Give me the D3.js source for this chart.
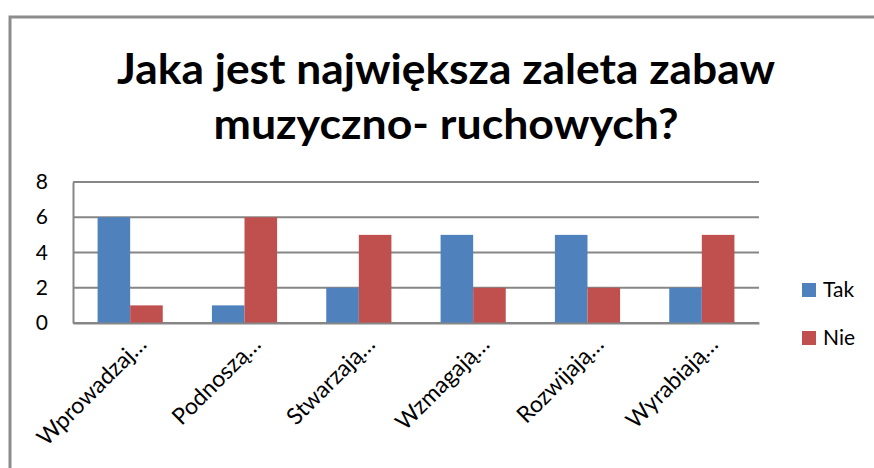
<!DOCTYPE html>
<html>
<head>
<meta charset="utf-8">
<script src="https://cdn.jsdelivr.net/npm/d3@7"></script>
<style>
  body { margin: 0; background: #fff; }
  text { font-family: Lato, "Open Sans", sans-serif; }
</style>
</head>
<body>
<script>
var categories = ["Wprowadzaj…", "Podnoszą…", "Stwarzają…", "Wzmagają…", "Rozwijają…", "Wyrabiają…"];
var tak = [6, 1, 2, 5, 5, 2];
var nie = [1, 6, 5, 2, 2, 5];
var seriesNames = ["Tak", "Nie"];
var yTicks = [0, 2, 4, 6, 8];
var titleLines = ["Jaka jest największa zaleta zabaw", "muzyczno- ruchowych?"];
var titleWidths = [658, 465];

var colors = ["#4f81bd", "#c0504d"];

var W = 874, H = 468;
var margin = {top: 182, right: 115, bottom: 145, left: 73}
  , width = W - margin.left - margin.right
  , height = H - margin.top - margin.bottom;

var svg = d3.select("body").append("svg")
    .attr("width", W)
    .attr("height", H);

// outer frame of the chart object
svg.append("path")
    .attr("d", "M10," + H + "V17H" + W)
    .attr("fill", "none")
    .attr("stroke", "#8c8c8c")
    .attr("stroke-width", 3);

// title
svg.append("g").selectAll("text")
    .data(titleLines)
  .enter().append("text")
    .attr("x", function(d, i) { return 446 - titleWidths[i] / 2; })
    .attr("y", function(d, i) { return 84 + i * 55; })
    .attr("textLength", function(d, i) { return titleWidths[i]; })
    .attr("lengthAdjust", "spacingAndGlyphs")
    .style("font-size", "42px")
    .style("font-weight", "bold")
    .text(function(d) { return d; });

var x0 = d3.scaleBand().domain(categories).range([0, width]).paddingInner(0.43).paddingOuter(0.215);
var x1 = d3.scaleBand().domain(seriesNames).range([0, x0.bandwidth()]);
var yScale = d3.scaleLinear().domain([0, 8]).range([height, 0]);

var g = svg.append("g")
    .attr("transform", "translate(" + margin.left + "," + margin.top + ")");

// gridlines
g.append("g").selectAll("line")
    .data(yTicks)
  .enter().append("line")
    .attr("x1", 0).attr("x2", width)
    .attr("y1", function(d) { return yScale(d); })
    .attr("y2", function(d) { return yScale(d); })
    .attr("stroke", "#868686")
    .attr("stroke-width", 2);

var rows = categories.map(function(c, i) { return {cat: c, values: [tak[i], nie[i]]}; });

var groups = g.append("g").selectAll("g")
    .data(rows)
  .enter().append("g")
    .attr("transform", function(d) { return "translate(" + x0(d.cat) + ",0)"; });

groups.selectAll("rect")
    .data(function(d) { return d.values.map(function(v, j) { return {key: seriesNames[j], value: v, j: j}; }); })
  .enter().append("rect")
    .attr("x", function(d) { return x1(d.key); })
    .attr("y", function(d) { return yScale(d.value); })
    .attr("width", x1.bandwidth())
    .attr("height", function(d) { return height - yScale(d.value); })
    .attr("fill", function(d) { return colors[d.j]; });

// y axis
var yAxis = g.append("g")
    .call(d3.axisLeft(yScale).tickValues(yTicks).tickSize(0).tickPadding(25));
yAxis.select(".domain").attr("stroke", "#868686").attr("stroke-width", 2);
yAxis.selectAll("text").style("font-size", "21px").style("font-family", "Lato, sans-serif").attr("fill", "#000");

// x axis
var xAxis = g.append("g")
    .attr("transform", "translate(0," + height + ")")
    .call(d3.axisBottom(x0).tickSize(0).tickFormat(function(d) { return d; }));
xAxis.select(".domain").attr("stroke", "#868686").attr("stroke-width", 2);
xAxis.selectAll("text")
    .style("font-size", "23px")
    .style("font-family", "Lato, sans-serif")
    .attr("fill", "#000")
    .attr("text-anchor", "end")
    .attr("dy", "0.35em")
    .attr("y", 0)
    .attr("transform", "translate(12,17) rotate(-45)");

// legend
var legend = svg.append("g").selectAll("g")
    .data(seriesNames)
  .enter().append("g")
    .attr("transform", function(d, i) { return "translate(802," + (283 + i * 48) + ")"; });

legend.append("rect")
    .attr("width", 14).attr("height", 14)
    .attr("fill", function(d, i) { return colors[i]; });

legend.append("text")
    .attr("x", 21).attr("y", 14)
    .style("font-size", "21px")
    .text(function(d) { return d; });
</script>
</body>
</html>
